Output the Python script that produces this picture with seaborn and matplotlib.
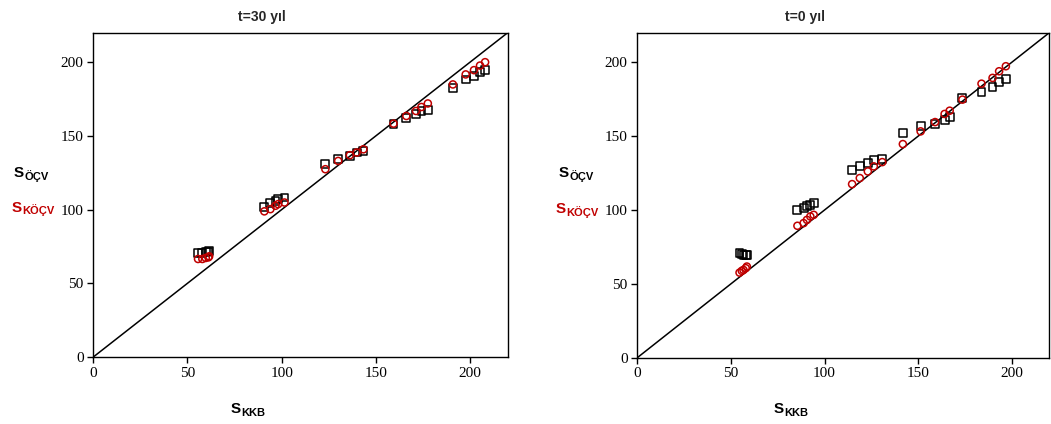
import numpy as np
import pandas as pd
import matplotlib
matplotlib.use("Agg")
import matplotlib.pyplot as plt
import seaborn as sns

# t=30 yil panel
kkb_30 = [55.6, 57.9, 59.7, 61.1, 61.5,
          90.8, 94.0, 96.7, 98.1, 101.5,
          123.2, 130.0, 136.2, 139.8, 143.4,
          159.4, 166.2, 171.3, 174.2, 177.6,
          190.9, 197.7, 202.1, 205.3, 208.0]
ocv_30 = [70.6, 70.6, 71.0, 71.6, 72.0,
          101.9, 104.2, 106.0, 107.1, 108.2,
          131.2, 134.6, 136.4, 138.7, 139.8,
          157.8, 161.9, 164.6, 166.9, 167.5,
          182.6, 188.3, 190.5, 193.5, 194.6]
kocv_30 = [66.5, 66.5, 67.2, 67.6, 68.3,
           98.8, 100.3, 102.6, 103.7, 104.8,
           127.4, 133.0, 136.9, 138.7, 140.9,
           158.3, 163.5, 166.9, 169.6, 172.0,
           184.9, 191.7, 194.6, 197.7, 200.0]

# t=0 yil panel
kkb_0 = [54.6, 55.8, 56.7, 57.9, 58.5,
         85.5, 88.8, 90.6, 92.4, 94.2,
         114.7, 118.8, 123.1, 126.3, 130.8,
         141.8, 151.3, 159.0, 164.1, 166.8, 173.6,
         183.8, 189.7, 193.2, 196.8]
ocv_0 = [70.7, 70.1, 69.6, 69.6, 69.6,
         100.1, 101.2, 102.4, 103.5, 104.6,
         127.2, 129.5, 131.8, 133.6, 134.7,
         151.9, 156.6, 158.4, 160.7, 162.7, 175.8,
         179.9, 183.3, 186.7, 188.7]
kocv_0 = [57.6, 58.8, 59.4, 60.6, 61.7,
          89.3, 91.1, 93.3, 95.6, 96.7,
          117.5, 121.6, 126.1, 129.5, 132.4,
          144.6, 153.2, 159.5, 165.0, 167.2, 174.7,
          185.5, 189.4, 193.9, 197.3]

ticks = [0, 50, 100, 150, 200]
lim = 220
red = "#C00000"

sns.set_style("ticks")
plt.rcParams["font.family"] = ["Liberation Serif", "DejaVu Serif"]

W, H = 1051, 424
fig = plt.figure(figsize=(W / 100, H / 100), dpi=100)
ax1 = fig.add_axes([93.3 / W, 1 - 357 / H, (507.7 - 93.3) / W, (357 - 32.7) / H])
ax2 = fig.add_axes([637.3 / W, 1 - 357.7 / H, (1049.3 - 637.3) / W, (357.7 - 32.7) / H])


def sub_label(x, y, main, sub, color):
    # big bold "S" with a small bold subscript after it (figure pixel coords, top origin)
    t = fig.text(x / W, 1 - y / H, main, fontsize=11, fontweight="bold", color=color,
                 family=["Liberation Sans", "DejaVu Sans"], va="baseline", ha="left")
    fig.canvas.draw()
    bb = t.get_window_extent()
    fig.text(bb.x1 / W + 0.5 / W, 1 - (y + 2.5) / H, sub, fontsize=8, fontweight="bold",
             color=color, family=["Liberation Sans", "DejaVu Sans"], va="baseline", ha="left")


def panel(ax, kkb, ocv, kocv):
    df = pd.DataFrame({"kkb": kkb, "ocv": ocv, "kocv": kocv})
    ax.plot([0, lim], [0, lim], color="black", lw=1.1, zorder=1)
    sns.scatterplot(data=df, x="kkb", y="ocv", marker="s", s=32, facecolor="none",
                    edgecolor="black", linewidth=1.1, ax=ax, zorder=2)
    sns.scatterplot(data=df, x="kkb", y="kocv", marker="o", s=26, facecolor="none",
                    edgecolor=red, linewidth=1.1, ax=ax, zorder=3)
    ax.set_xlim(0, lim)
    ax.set_ylim(0, lim)
    ax.set_xticks(ticks)
    ax.set_yticks(ticks)
    ax.set_xlabel("")
    ax.set_ylabel("")
    for sp in ax.spines.values():
        sp.set_visible(True)
        sp.set_color("black")
        sp.set_linewidth(1.0)
    ax.tick_params(direction="out", length=4, width=1, colors="black", labelsize=11, pad=3)


panel(ax1, kkb_30, ocv_30, kocv_30)
panel(ax2, kkb_0, ocv_0, kocv_0)

title_kw = dict(fontsize=10, fontweight="bold", family=["Liberation Sans", "DejaVu Sans"],
                ha="center", va="baseline")
fig.text(262 / W, 1 - 21 / H, "t=30 yıl", **title_kw)
fig.text(805 / W, 1 - 21 / H, "t=0 yıl", **title_kw)

# y labels
sub_label(14, 177, "S", "ÖÇV", "black")
sub_label(12, 212, "S", "KÖÇV", red)
sub_label(559, 177, "S", "ÖÇV", "black")
sub_label(556, 213, "S", "KÖÇV", red)

# x labels
sub_label(231, 413, "S", "KKB", "black")
sub_label(774, 413, "S", "KKB", "black")

fig.savefig("out.png", dpi=100)
